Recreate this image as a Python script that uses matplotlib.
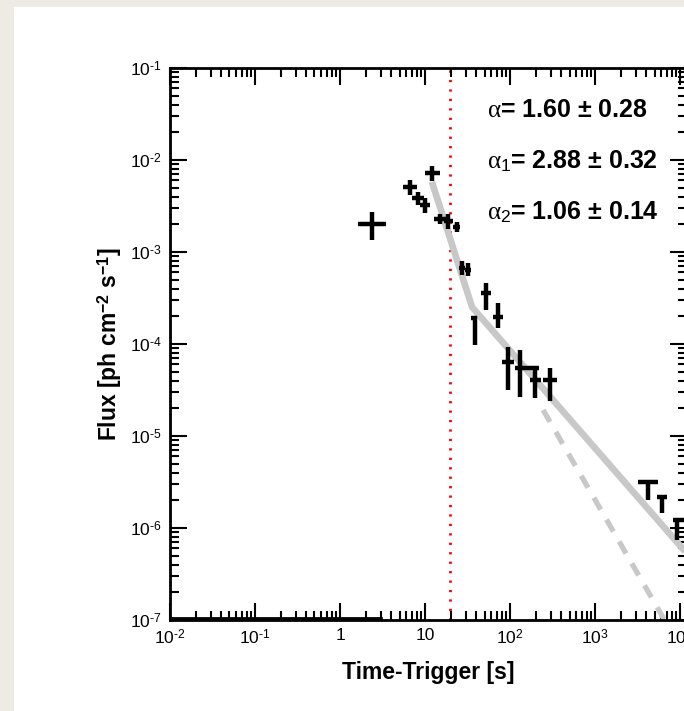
import matplotlib.pyplot as plt
import numpy as np
from matplotlib.patches import Rectangle
from matplotlib.ticker import LogLocator, FuncFormatter, NullFormatter

plt.rcParams["font.family"] = ["Liberation Sans", "DejaVu Sans"]
plt.rcParams["mathtext.fontset"] = "custom"
plt.rcParams["mathtext.rm"] = "Liberation Sans"
plt.rcParams["mathtext.it"] = "Liberation Serif"
plt.rcParams["mathtext.bf"] = "Liberation Sans:bold"

# light curve (time since trigger [s], flux [ph cm^-2 s^-1])
t = [2.38, 6.67, 8.28, 10.0, 12.1, 15.0, 18.7, 23.8, 27.2, 32.0, 38.7,
     52.0, 72.0, 94.7, 131.0, 197.0, 295.0, 4200.0, 6140.0, 9220.0]
t_lo = [1.63, 5.5, 7.03, 8.73, 10.0, 12.8, 16.5, 21.5, 25.0, 29.5, 35.0,
        45.0, 62.0, 81.0, 115.0, 170.0, 240.0, 3200.0, 5300.0, 8300.0]
t_hi = [3.47, 8.05, 9.73, 11.5, 15.0, 17.7, 21.0, 26.0, 29.5, 35.0, 41.0,
        60.0, 83.0, 112.0, 220.0, 230.0, 360.0, 5400.0, 7000.0, 11000.0]
flux = [2.01e-3, 5.09e-3, 3.86e-3, 3.24e-3, 7.22e-3, 2.29e-3, 2.17e-3,
        1.87e-3, 6.7e-4, 6.4e-4, 1.92e-4, 3.58e-4, 1.96e-4, 6.37e-5,
        5.48e-5, 4.07e-5, 4.07e-5, 3.16e-6, 2.17e-6, 1.22e-6]
flux_hi = [2.72e-3, 6.06e-3, 4.49e-3, 3.86e-3, 8.6e-3, 2.59e-3, 2.6e-3,
           2.1e-3, 8.0e-4, 7.5e-4, 2.0e-4, 4.6e-4, 2.79e-4, 9.3e-5,
           8.6e-5, 5.6e-5, 5.5e-5, 3.3e-6, 2.25e-6, 1.28e-6]
flux_lo = [1.35e-3, 4.17e-3, 3.24e-3, 2.65e-3, 5.9e-3, 2.01e-3, 1.8e-3,
           1.65e-3, 5.6e-4, 5.5e-4, 9.8e-5, 2.34e-4, 1.49e-4, 3.16e-5,
           2.65e-5, 2.6e-5, 2.4e-5, 2.01e-6, 1.46e-6, 7.4e-7]

# broken power law fit: start, break, end (time) and flux at start
t_fit = [12.0, 35.7, 1.2e4]
f_fit0 = 5.8e-3
alpha1, alpha2 = 2.88, 1.06
# single power law extrapolation
t_pl = [244.0, 1.2e4]
f_pl0 = 1.92e-5
alpha = 1.60

t_trig_line = 19.5

labels = [r"$\alpha$= 1.60 ± 0.28", r"$\alpha_1$= 2.88 ± 0.32", r"$\alpha_2$= 1.06 ± 0.14"]

W, H = 684, 711
fig = plt.figure(figsize=(W / 100, H / 100), dpi=100, facecolor="#eeebe5")
fig.patches.append(Rectangle((14 / W, 0), 1, (H - 7) / H, transform=fig.transFigure,
                             facecolor="white", edgecolor="none", zorder=-1))

ax = fig.add_axes([170 / W, 91 / H, 517 / W, 552 / H])
ax.set_xscale("log")
ax.set_yscale("log")
ax.set_xlim(1e-2, 1.2e4)
ax.set_ylim(1e-7, 1e-1)

# data with error bars
t = np.array(t)
flux = np.array(flux)
xerr = [t - np.array(t_lo), np.array(t_hi) - t]
yerr = [flux - np.array(flux_lo), np.array(flux_hi) - flux]
ax.errorbar(t, flux, xerr=xerr, yerr=yerr, fmt="none", ecolor="black",
            elinewidth=3.2, capsize=0, zorder=3)

# fits
tt1 = np.array(t_fit[:2])
tt2 = np.array(t_fit[1:])
f_break = f_fit0 * (t_fit[1] / t_fit[0]) ** (-alpha1)
fit_t = np.concatenate([tt1, tt2[1:]])
fit_f = np.concatenate([f_fit0 * (tt1 / t_fit[0]) ** (-alpha1),
                        f_break * (tt2[1:] / t_fit[1]) ** (-alpha2)])
ax.plot(fit_t, fit_f, color="#c8c8c8", lw=4.8, solid_capstyle="butt", zorder=2)
tp = np.array(t_pl)
ax.plot(tp, f_pl0 * (tp / t_pl[0]) ** (-alpha), color="#c8c8c8", lw=3.8,
        dashes=(2.6, 2.2), zorder=2)

ax.axvline(t_trig_line, color="red", lw=2, ls=(0, (0.8, 2.6)), zorder=1)

# doubled bottom line at the left, as in the original
ax.plot([1e-2, 3.0], [1.06e-7, 1.06e-7], color="black", lw=2, clip_on=False, zorder=4)

for lab, yy in zip(labels, [0.924, 0.832, 0.739]):
    ax.text(0.613, yy, lab, transform=ax.transAxes, fontsize=18, fontweight="bold",
            va="center", ha="left")


def fmt_x(v, pos):
    e = int(round(np.log10(v)))
    if e == 0:
        return "1"
    if e == 1:
        return "10"
    if e < 0:
        return r"$10^{\text{-}%d}$" % -e
    return r"$10^{%d}$" % e


def fmt_y(v, pos):
    e = int(round(np.log10(v)))
    return r"$10^{\text{-}%d}$" % -e


ax.xaxis.set_major_locator(LogLocator(base=10, numticks=20))
ax.xaxis.set_minor_locator(LogLocator(base=10, subs=np.arange(2, 10), numticks=20))
ax.yaxis.set_major_locator(LogLocator(base=10, numticks=20))
ax.yaxis.set_minor_locator(LogLocator(base=10, subs=np.arange(2, 10), numticks=20))
ax.xaxis.set_major_formatter(FuncFormatter(fmt_x))
ax.yaxis.set_major_formatter(FuncFormatter(fmt_y))
ax.xaxis.set_minor_formatter(NullFormatter())
ax.yaxis.set_minor_formatter(NullFormatter())
ax.tick_params(which="both", direction="in", top=True, right=True, width=1.5,
               labelsize=12.5, pad=6)
ax.tick_params(which="major", length=12)
ax.tick_params(which="minor", length=6.5)
for s in ax.spines.values():
    s.set_linewidth(2)

ax.set_xlabel("Time-Trigger [s]", fontsize=16.5, fontweight="bold", va="center")
ax.xaxis.set_label_coords(0.5, -0.095)
ax.set_ylabel(r"Flux [ph cm$^{\mathbf{-2}}$ s$^{\mathbf{-1}}$]", fontsize=16.5,
              fontweight="bold", labelpad=4)

fig.savefig("out.png", dpi=100, facecolor=fig.get_facecolor())
